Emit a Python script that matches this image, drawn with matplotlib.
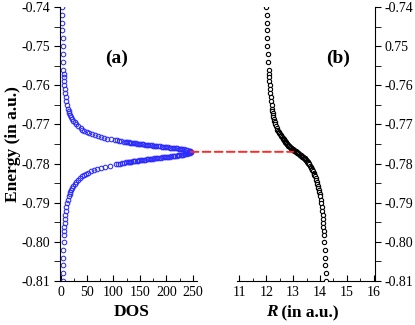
# DOS and R plotted against energy, two panels joined at the resonance
import matplotlib.pyplot as plt
from matplotlib.patches import ConnectionPatch
from matplotlib.ticker import MultipleLocator, FixedLocator, FixedFormatter

plt.rcParams['font.family'] = ['Liberation Serif', 'DejaVu Serif']
plt.rcParams['axes.unicode_minus'] = False

# Energy grid (a.u.), top to bottom
energy = [
    -0.7400, -0.7420, -0.7440, -0.7460, -0.7480, -0.7500, -0.7520, -0.7540, -0.7560,
    -0.7570, -0.7580, -0.7590, -0.7600, -0.7610, -0.7620, -0.7630, -0.7640, -0.7650, -0.7660,
    -0.7665, -0.7670, -0.7675, -0.7680, -0.7685, -0.7690, -0.7695, -0.7700, -0.7705, -0.7710,
    -0.7713, -0.7716, -0.7719, -0.7722, -0.7725, -0.7728, -0.7730, -0.7732, -0.7734, -0.7736, -0.7738,
    -0.7740, -0.7741, -0.7742, -0.7743, -0.7744, -0.7745, -0.7746, -0.7747, -0.7748, -0.7749,
    -0.7750, -0.7751, -0.7752, -0.7753, -0.7754, -0.7755, -0.7756, -0.7757, -0.7758, -0.7759,
    -0.7760, -0.7761, -0.7762, -0.7763, -0.7764, -0.7765, -0.7766, -0.7767, -0.7768, -0.7769,
    -0.7770,
    -0.7771, -0.7772, -0.7773, -0.7774, -0.7775, -0.7776, -0.7777, -0.7778, -0.7779, -0.7780,
    -0.7781, -0.7782, -0.7783, -0.7784, -0.7785, -0.7786, -0.7787, -0.7788, -0.7789, -0.7790,
    -0.7791, -0.7792, -0.7793, -0.7794, -0.7795, -0.7796, -0.7797, -0.7798, -0.7799, -0.7800,
    -0.7801, -0.7802,
    -0.7805, -0.7808, -0.7811, -0.7814, -0.7817, -0.7820, -0.7823, -0.7826, -0.7829, -0.7832,
    -0.7837, -0.7842, -0.7847, -0.7852, -0.7857, -0.7862, -0.7867, -0.7872, -0.7877, -0.7882,
    -0.7892, -0.7902, -0.7912, -0.7922, -0.7932, -0.7942, -0.7952, -0.7962, -0.7972, -0.7982,
    -0.8000, -0.8020, -0.8040, -0.8060, -0.8080, -0.8100,
]

# panel (a): density of states at each energy
dos = [
    3.1, 3.2, 3.4, 3.6, 3.8, 4.1, 4.4, 4.9, 5.4,
    5.8, 6.2, 6.6, 7.2, 7.8, 8.6, 9.5, 10.7, 12.2, 14.0,
    15.1, 16.4, 17.8, 19.5, 21.4, 23.7, 26.4, 29.6, 33.4, 38.1,
    41.4, 45.1, 49.3, 54.1, 59.5, 65.8, 70.5, 75.7, 81.4, 87.6, 94.5,
    102.0, 106.0, 110.3, 114.6, 119.2, 124.0, 129.0, 134.1, 139.5, 145.1,
    150.8, 156.7, 162.7, 168.8, 175.1, 181.4, 187.7, 194.1, 200.3, 206.4,
    212.3, 218.0, 223.3, 228.3, 232.7, 236.6, 239.9, 242.5, 244.4, 245.6,
    246.0,
    246.2, 245.2, 243.5, 241.3, 238.4, 235.0, 231.1, 226.8, 222.1, 217.1,
    211.8, 206.3, 200.6, 194.8, 189.0, 183.1, 177.2, 171.4, 165.7, 160.0,
    154.5, 149.1, 143.9, 138.8, 133.9, 129.1, 124.5, 120.1, 115.8, 111.7,
    107.8, 104.0,
    93.5, 84.4, 76.3, 69.2, 63.0, 57.6, 52.8, 48.5, 44.7, 41.4,
    36.6, 32.6, 29.2, 26.4, 23.9, 21.9, 20.0, 18.5, 17.1, 15.9,
    13.9, 12.3, 11.0, 10.0, 9.1, 8.4, 7.8, 7.2, 6.8, 6.4,
    5.8, 5.3, 4.9, 4.6, 4.3, 4.1,
]

# panel (b): R (a.u.) at each energy
radius = [
    12.000, 12.010, 12.020, 12.025, 12.035, 12.045, 12.060, 12.070, 12.085,
    12.095, 12.105, 12.115, 12.125, 12.135, 12.150, 12.165, 12.180, 12.200, 12.220,
    12.230, 12.240, 12.250, 12.260, 12.275, 12.290, 12.310, 12.330, 12.360, 12.390,
    12.410, 12.435, 12.460, 12.490, 12.520, 12.540, 12.560, 12.580, 12.605, 12.630, 12.650,
    12.670, 12.678, 12.687, 12.697, 12.706, 12.716, 12.726, 12.738, 12.749, 12.760,
    12.772, 12.785, 12.798, 12.811, 12.825, 12.840, 12.855, 12.871, 12.887, 12.903,
    12.921, 12.938, 12.956, 12.975, 12.993, 13.012, 13.031, 13.051, 13.070, 13.090,
    13.110,
    13.131, 13.152, 13.173, 13.193, 13.213, 13.233, 13.253, 13.272, 13.291, 13.310,
    13.328, 13.345, 13.362, 13.379, 13.395, 13.410, 13.425, 13.440, 13.454, 13.468,
    13.481, 13.494, 13.506, 13.518, 13.529, 13.540, 13.551, 13.561, 13.571, 13.580,
    13.589, 13.598,
    13.625, 13.650, 13.675, 13.700, 13.720, 13.740, 13.760, 13.780, 13.795, 13.810,
    13.835, 13.860, 13.880, 13.900, 13.920, 13.940, 13.955, 13.970, 13.985, 14.000,
    14.025, 14.045, 14.065, 14.080, 14.095, 14.110, 14.120, 14.130, 14.140, 14.150,
    14.165, 14.180, 14.190, 14.200, 14.210, 14.220,
]

# extra DOS points on the steep flanks of the peak (panel (a) only)
peak_energy = [
    -0.77455, -0.77465, -0.77475, -0.77485, -0.77495, -0.77505, -0.77515, -0.77525,
    -0.77535, -0.77545, -0.77555, -0.77565, -0.77575, -0.77585, -0.77595, -0.77605,
    -0.77615, -0.77625, -0.77635,
    -0.77765, -0.77775, -0.77785, -0.77795, -0.77805, -0.77815, -0.77825, -0.77835,
    -0.77845, -0.77855, -0.77865, -0.77875, -0.77885, -0.77895, -0.77905, -0.77915,
    -0.77925, -0.77935, -0.77945, -0.77955, -0.77965,
]
peak_dos = [
    126.5, 131.5, 136.8, 142.3, 147.9, 153.7, 159.7, 165.8,
    172.0, 178.2, 184.6, 190.9, 197.2, 203.4, 209.4, 215.2,
    220.7, 225.9, 230.5,
    233.1, 229.0, 224.5, 219.6, 214.5, 209.0, 203.4, 197.7,
    191.9, 186.0, 180.1, 174.3, 168.5, 162.8, 157.3, 151.8,
    146.5, 141.3, 136.3, 131.5, 126.8,
]

# where the dashed guide line runs
e_peak = -0.777
dos_peak = 246.0
r_cross = 13.0

energy_ticks = [-0.74, -0.75, -0.76, -0.77, -0.78, -0.79, -0.80, -0.81]
left_labels = ['-0.74', '-0.75', '-0.76', '-0.77', '-0.78', '-0.79', '-0.80', '-0.81']
right_labels = ['-0.74', '0.75', '-0.76', '-0.77', '-0.78', '-0.79', '-0.80', '-0.81']
dos_ticks = [0, 50, 100, 150, 200, 250]
r_ticks = [11, 12, 13, 14, 15, 16]

fig = plt.figure(figsize=(4.15, 3.25), dpi=100)
ax1 = fig.add_axes([0.1434, 0.1354, 0.3313, 0.8431])
ax2 = fig.add_axes([0.5704, 0.1354, 0.3333, 0.8431])

blue = '#2b2bff'
ax1.plot(dos, energy, ls='none', marker='o', ms=3.3, mfc='none', mec=blue, mew=0.75)
ax1.plot(peak_dos, peak_energy, ls='none', marker='o', ms=3.3, mfc='none', mec=blue, mew=0.75)
ax2.plot(radius, energy, ls='none', marker='o', ms=3.1, mfc='white', mec='black', mew=0.8, zorder=3)

ax1.set_xlim(-2, 258)
ax2.set_xlim(10.9, 16.05)
for ax in (ax1, ax2):
    ax.set_ylim(-0.81, -0.74)
    ax.yaxis.set_major_locator(FixedLocator(energy_ticks))
    ax.yaxis.set_minor_locator(MultipleLocator(0.005))
    ax.spines['top'].set_visible(False)
    ax.tick_params(axis='x', which='both', direction='in', top=False, labelsize=10, pad=3.5)
    ax.tick_params(axis='x', which='major', length=4)
    ax.tick_params(axis='x', which='minor', length=2.5)
    ax.tick_params(axis='y', which='both', direction='out', length=4.5, labelsize=10, pad=2.5)
    for s in ax.spines.values():
        s.set_linewidth(0.8)

ax1.spines['right'].set_visible(False)
ax1.yaxis.set_ticks_position('left')
ax1.yaxis.set_major_formatter(FixedFormatter(left_labels))
ax1.xaxis.set_major_locator(FixedLocator(dos_ticks))
ax1.xaxis.set_minor_locator(MultipleLocator(25))

ax2.spines['left'].set_visible(False)
ax2.yaxis.set_ticks_position('right')
ax2.yaxis.set_major_formatter(FixedFormatter(right_labels))
ax2.xaxis.set_major_locator(FixedLocator(r_ticks))
ax2.xaxis.set_minor_locator(MultipleLocator(0.5))

# red dashed guide from the DOS peak to the R curve
con = ConnectionPatch(xyA=(dos_peak, e_peak), coordsA=ax1.transData,
                      xyB=(r_cross, e_peak), coordsB=ax2.transData,
                      color='#ff2a2a', lw=1.4, ls=(0, (4, 2.2)), zorder=2)
fig.add_artist(con)

ax1.text(106, -0.7532, '(a)', fontsize=14, fontweight='bold', ha='center', va='center')
ax2.text(14.68, -0.7532, '(b)', fontsize=14, fontweight='bold', ha='center', va='center')

# axis titles
fig.text(13 / 415, 1 - 144 / 325, 'Energy (in a.u.)', fontsize=12.5, fontweight='bold',
         rotation=90, ha='center', va='center')
fig.text(132 / 415, 1 - 312 / 325, 'DOS', fontsize=12.5, fontweight='bold', ha='center', va='center')
fig.text(277.4 / 415, 1 - 312 / 325, 'R', fontsize=12.5, fontweight='bold', style='italic',
         ha='right', va='center')
fig.text(277.4 / 415, 1 - 312 / 325, ' (in a.u.)', fontsize=12.5, fontweight='bold',
         ha='left', va='center')

plt.savefig('out.png', dpi=100)
